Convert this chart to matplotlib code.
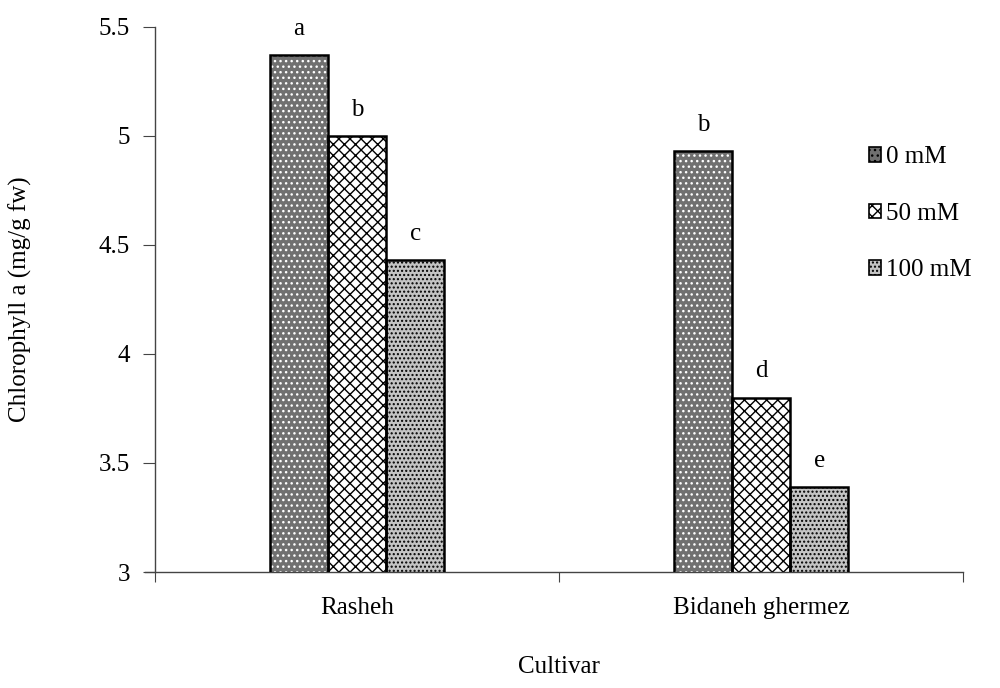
import matplotlib
matplotlib.use("Agg")
import matplotlib.pyplot as plt
from matplotlib.patches import Patch
import numpy as np

plt.rcParams['font.family'] = ['Liberation Serif', 'DejaVu Serif']
plt.rcParams['hatch.linewidth'] = 1.0

cultivars = ["Rasheh", "Bidaneh ghermez"]
treatments = ["0 mM", "50 mM", "100 mM"]
values = {
    "0 mM": [5.37, 4.93],
    "50 mM": [5.00, 3.80],
    "100 mM": [4.43, 3.39],
}
letters = {
    "0 mM": ["a", "b"],
    "50 mM": ["b", "d"],
    "100 mM": ["c", "e"],
}
yticks = [3, 3.5, 4, 4.5, 5, 5.5]
ytick_labels = ["3", "3.5", "4", "4.5", "5", "5.5"]

styles = {
    "0 mM": dict(face="#707070", hatch="...", hcol="white"),
    "50 mM": dict(face="white", hatch="xxx", hcol="black"),
    "100 mM": dict(face="#c4c4c4", hatch="....", hcol="black"),
}

FS = 18
fig = plt.figure(figsize=(10, 6.88), dpi=100)
ax = fig.add_axes([0.155, 0.1686, 0.808, 0.7922])

x = np.arange(len(cultivars)) + 0.5
w = 0.144
for i, t in enumerate(treatments):
    pos = x + (i - 1) * w
    st = styles[t]
    ax.bar(pos, values[t], width=w, bottom=0, color=st["face"], hatch=st["hatch"],
           edgecolor=st["hcol"], linewidth=0, zorder=2)
    ax.bar(pos, values[t], width=w, bottom=0, fill=False, edgecolor="black",
           linewidth=1.8, zorder=3)
    for p, v, l in zip(pos, values[t], letters[t]):
        ax.text(p, v + 0.07, l, ha="center", va="bottom", fontsize=FS)

ax.set_ylim(3, 5.5)
ax.set_xlim(0, 2)
ax.set_yticks(yticks)
ax.set_yticklabels(ytick_labels, fontsize=FS)
ax.set_xticks([0, 1, 2])
ax.set_xticklabels([])
ax.set_xticks(x, minor=True)
ax.set_xticklabels(cultivars, minor=True, fontsize=FS)
ax.tick_params(axis="x", which="minor", length=0, pad=18)
ax.tick_params(axis="x", which="major", length=7, direction="out", color="#444444")
ax.tick_params(axis="y", length=9, direction="out", color="#444444", pad=9)

for s in ["top", "right"]:
    ax.spines[s].set_visible(False)
for s in ["left", "bottom"]:
    ax.spines[s].set_color("#444444")
    ax.spines[s].set_linewidth(1.0)
ax.spines["bottom"].set_bounds(-0.025, 2)

ax.set_ylabel("Chlorophyll a (mg/g fw)", fontsize=FS)
ax.yaxis.set_label_coords(-0.152, 0.5)
ax.set_xlabel("Cultivar", fontsize=FS)
ax.xaxis.set_label_coords(0.5, -0.155)

handles = [Patch(facecolor=styles[t]["face"], hatch=styles[t]["hatch"],
                 edgecolor="black", linewidth=1.2) for t in treatments]
leg = fig.legend(handles, treatments, loc="upper left", bbox_to_anchor=(0.846, 0.82),
                 frameon=False, fontsize=FS, handlelength=0.5, handleheight=0.5,
                 handletextpad=0.2, labelspacing=1.38)

fig.savefig("out.png", dpi=100)
